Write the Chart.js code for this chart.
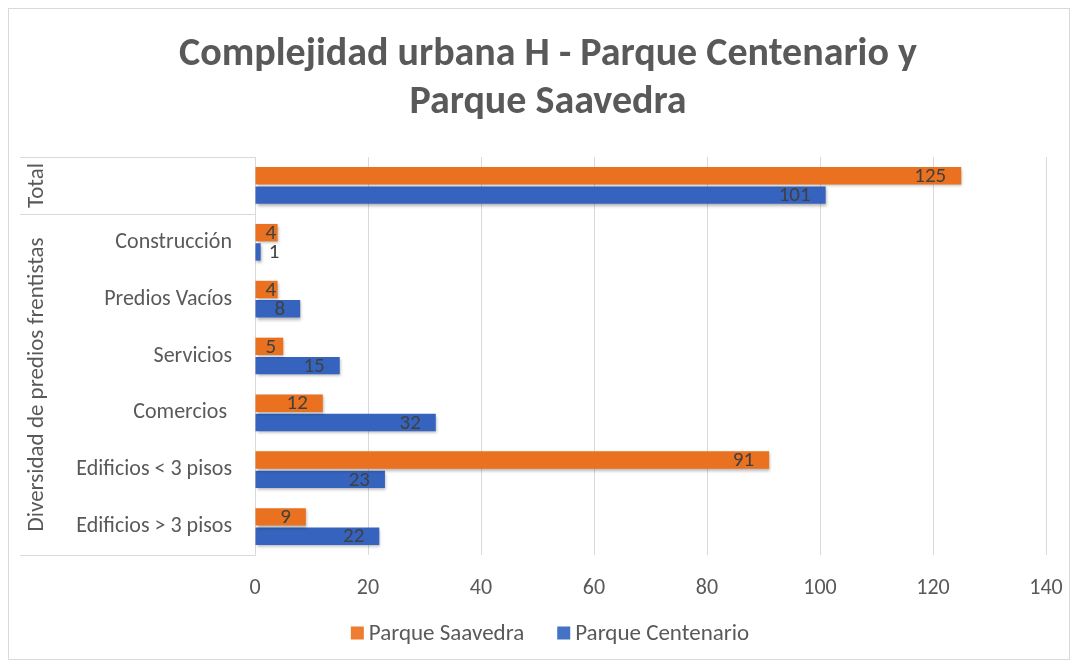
<!DOCTYPE html>
<html>
<head>
<meta charset="utf-8">
<script src="https://cdn.jsdelivr.net/npm/chart.js@4.4.1/dist/chart.umd.min.js"></script>
<style>
html,body{margin:0;padding:0;background:#fff;}
#wrap{width:1078px;height:663px;position:relative;}
</style>
</head>
<body>
<div id="wrap"><canvas id="c" width="1078" height="663"></canvas></div>
<script>
const titleLines = ["Complejidad urbana H - Parque Centenario y", "Parque Saavedra"];
const categories = ["", "Construcción", "Predios Vacíos", "Servicios", "Comercios ", "Edificios < 3 pisos", "Edificios > 3 pisos"];
const groupNames = ["Total", "Diversidad de predios frentistas"];
const groupSpans = [1, 6];
const seriesNames = ["Parque Saavedra", "Parque Centenario"];
const saavedra = [125, 4, 4, 5, 12, 91, 9];
const centenario = [101, 1, 8, 15, 32, 23, 22];
const xTicks = [0, 20, 40, 60, 80, 100, 120, 140];
const seriesColors = ['#ED7D31', '#4472C4'];

const FONT = "Carlito, Calibri, Lato, 'Open Sans', sans-serif";
const TXT = "#595959";

const frame = {
  id: 'frame',
  beforeDraw(chart) {
    const ctx = chart.ctx;
    ctx.save();
    ctx.fillStyle = '#fff';
    ctx.fillRect(0, 0, chart.width, chart.height);
    ctx.strokeStyle = '#d9d9d9';
    ctx.lineWidth = 1;
    ctx.strokeRect(8.5, 8.5, 1061, 651);
    ctx.restore();
  }
};

const groups = {
  id: 'groups',
  afterDraw(chart) {
    const ctx = chart.ctx;
    const y = chart.scales.y;
    const area = chart.chartArea;
    const x0 = 20;
    const half = (y.getPixelForValue(1) - y.getPixelForValue(0)) / 2;
    ctx.save();
    ctx.strokeStyle = '#d9d9d9';
    ctx.lineWidth = 1;
    let start = 0;
    const bounds = [y.getPixelForValue(0) - half];
    for (let g = 0; g < groupSpans.length; g++) {
      const end = start + groupSpans[g] - 1;
      bounds.push(y.getPixelForValue(end) + half);
      start = end + 1;
    }
    for (const b of bounds) {
      const yy = Math.round(b) + 0.5;
      ctx.beginPath(); ctx.moveTo(x0, yy); ctx.lineTo(area.left, yy); ctx.stroke();
    }
    ctx.fillStyle = TXT;
    ctx.font = "23px " + FONT;
    ctx.textAlign = 'center';
    ctx.textBaseline = 'middle';
    for (let g = 0; g < groupNames.length; g++) {
      const mid = (bounds[g] + bounds[g + 1]) / 2;
      ctx.save();
      ctx.translate(37, mid);
      ctx.rotate(-Math.PI / 2);
      ctx.fillText(groupNames[g], 0, 0);
      ctx.restore();
    }
    ctx.restore();
  }
};

const legendPlug = {
  id: 'legendPlug',
  afterDraw(chart) {
    const ctx = chart.ctx;
    ctx.save();
    ctx.font = "23px " + FONT;
    ctx.textBaseline = 'middle';
    ctx.textAlign = 'left';
    const box = 13, gapText = 5, gapItem = 33, cy = 633, cx = 550;
    const items = chart.data.datasets.map((ds, i) => ({ t: ds.label, c: seriesColors[i], w: ctx.measureText(ds.label).width }));
    let total = 0;
    items.forEach((it, i) => { total += box + gapText + it.w + (i ? gapItem : 0); });
    let x = cx - total / 2;
    items.forEach((it) => {
      ctx.fillStyle = it.c;
      ctx.fillRect(x, cy - box / 2, box, box);
      ctx.fillStyle = TXT;
      ctx.fillText(it.t, x + box + gapText, cy + 1);
      x += box + gapText + it.w + gapItem;
    });
    ctx.restore();
  }
};

const shadow = {
  id: 'shadow',
  beforeDatasetsDraw(chart) {
    const ctx = chart.ctx;
    ctx.save();
    ctx.shadowColor = 'rgba(0,0,0,0.3)';
    ctx.shadowBlur = 3;
    ctx.shadowOffsetX = 1;
    ctx.shadowOffsetY = 2;
  },
  afterDatasetsDraw(chart) {
    chart.ctx.restore();
  }
};

const labels = {
  id: 'labels',
  afterDatasetsDraw(chart) {
    const ctx = chart.ctx;
    ctx.save();
    ctx.font = "21px " + FONT;
    ctx.fillStyle = '#404040';
    ctx.textBaseline = 'middle';
    chart.data.datasets.forEach((ds, di) => {
      const meta = chart.getDatasetMeta(di);
      meta.data.forEach((el, i) => {
        const t = String(ds.data[i]);
        const w = ctx.measureText(t).width;
        const barW = el.x - el.base;
        if (barW < w) {
          ctx.textAlign = 'left';
          ctx.fillText(t, el.x + 8, el.y + 1);
        } else {
          ctx.textAlign = 'right';
          ctx.fillText(t, Math.max(el.x - 15, el.base + w + 10), el.y + 1);
        }
      });
    });
    ctx.restore();
  }
};

function barFill(colTop, colBot) {
  return (c) => {
    const el = c.element;
    const chart = c.chart;
    if (!el || !Number.isFinite(el.y)) return colBot;
    const h = 17;
    const g = chart.ctx.createLinearGradient(0, el.y - h / 2, 0, el.y + h / 2);
    g.addColorStop(0, colTop);
    g.addColorStop(1, colBot);
    return g;
  };
}

new Chart(document.getElementById('c'), {
  type: 'bar',
  data: {
    labels: categories,
    datasets: [
      { label: seriesNames[0], data: saavedra, backgroundColor: barFill('#F38D4C', '#E9711F'), categoryPercentage: 0.68, barPercentage: 0.9 },
      { label: seriesNames[1], data: centenario, backgroundColor: barFill('#5681CF', '#3563BE'), categoryPercentage: 0.68, barPercentage: 0.9 }
    ]
  },
  options: {
    indexAxis: 'y',
    responsive: false,
    animation: false,
    devicePixelRatio: 1,
    layout: { padding: { left: 18, right: 0, top: 0, bottom: 48 } },
    scales: {
      x: {
        min: 0, max: 140,
        afterBuildTicks(s) { s.ticks = xTicks.map(v => ({ value: v })); },
        afterFit(s) { s.height = 60; s.paddingRight = 32; s.paddingLeft = 0; },
        grid: { color: '#d9d9d9', drawTicks: false },
        border: { display: false },
        ticks: { color: TXT, font: { size: 22, family: FONT }, padding: 20 }
      },
      y: {
        afterFit(s) { s.width = 237; },
        grid: { display: false, drawTicks: false },
        border: { display: true, color: '#d9d9d9' },
        ticks: { color: TXT, font: { size: 22, family: FONT }, padding: 23, autoSkip: false }
      }
    },
    plugins: {
      title: {
        display: true,
        text: titleLines,
        color: TXT,
        font: { size: 40, weight: 'bold', family: FONT, lineHeight: 1.2 },
        padding: { top: 31, bottom: 30 }
      },
      legend: { display: false },
      tooltip: { enabled: false }
    }
  },
  plugins: [frame, shadow, labels, groups, legendPlug]
});
</script>
</body>
</html>
